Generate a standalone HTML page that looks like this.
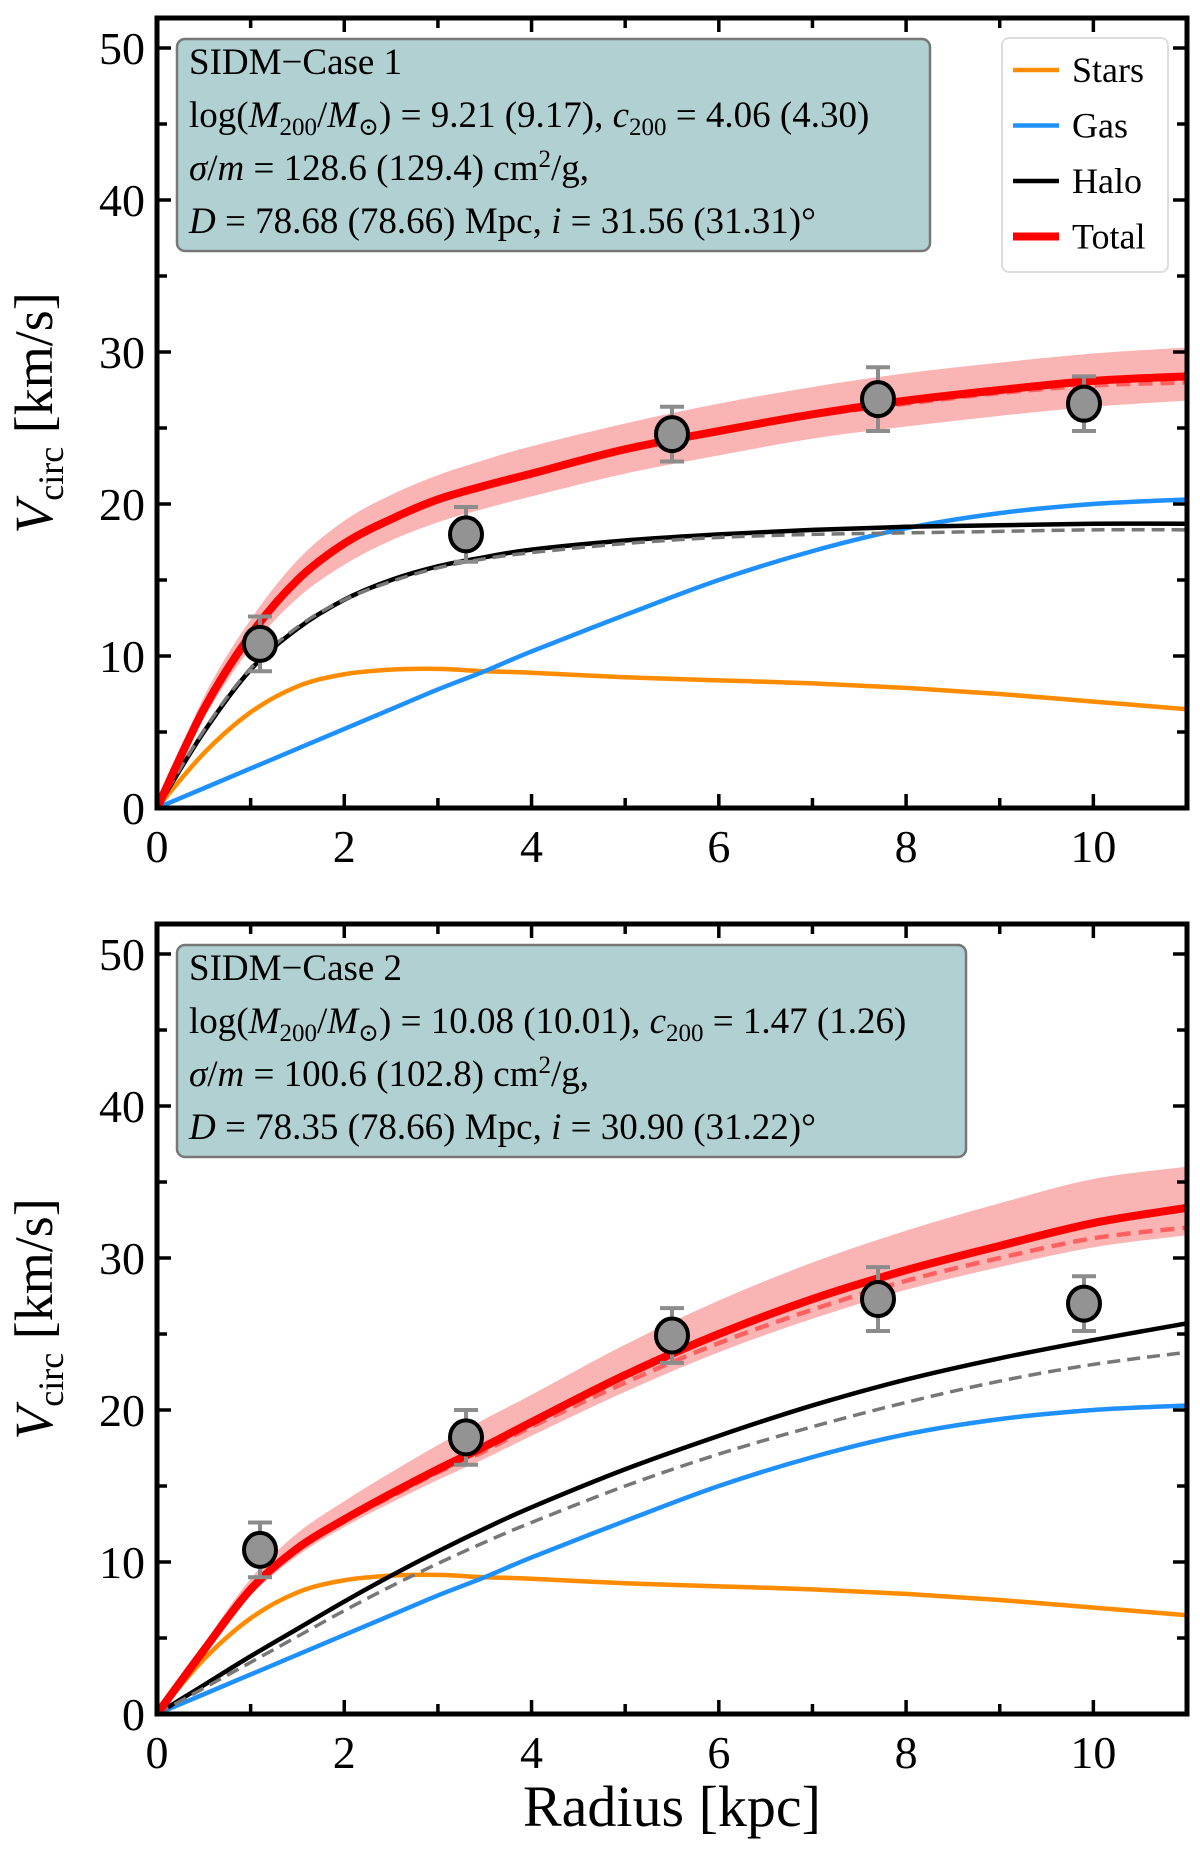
<!DOCTYPE html>
<html><head><meta charset="utf-8"><style>
html,body{margin:0;padding:0;background:#fff;}
svg{display:block;}
svg text{font-family:"Liberation Serif","Times New Roman","DejaVu Serif",serif;}
</style></head><body>
<svg id="fig" width="1200" height="1854" viewBox="0 0 1200 1854" xmlns="http://www.w3.org/2000/svg" font-family="Liberation Serif, Times New Roman, DejaVu Serif, serif"></svg>
<script>
// ---- data ----
const radii = [0,0.5,1,1.5,2,2.5,3,3.5,4,5,6,7,8,9,10,11];
const stars = [0,3.6,6.3,8.0,8.8,9.1,9.15,9.0,8.9,8.6,8.4,8.2,7.9,7.5,7.0,6.5];
const gas = [0,1.3,2.6,3.9,5.2,6.5,7.8,9.0,10.3,12.7,15.0,16.9,18.4,19.4,20.0,20.3];
const halo1 = [0,5.0,9.1,11.8,13.7,15.0,15.9,16.5,17.0,17.6,18.0,18.3,18.5,18.6,18.7,18.7];
const haloDash1 = [0,5.1,9.2,11.9,13.7,14.9,15.8,16.4,16.8,17.4,17.8,18.0,18.1,18.2,18.3,18.3];
const total1 = [0,6.5,11.4,15.0,17.4,19.0,20.3,21.2,22.0,23.6,24.8,25.9,26.8,27.5,28.1,28.4];
const totalDash1 = [0,6.6,11.5,15.0,17.3,18.9,20.2,21.1,21.9,23.5,24.7,25.8,26.6,27.3,27.8,28.0];
const bandLo1 = [0,5.9,10.5,13.8,16.0,17.6,18.8,19.7,20.5,22.0,23.2,24.3,25.1,25.8,26.4,26.8];
const bandHi1 = [0,7.3,12.4,16.3,18.9,20.6,21.9,22.9,23.8,25.3,26.6,27.7,28.6,29.3,29.9,30.3];
const halo2 = [0,1.9,3.8,5.6,7.4,9.1,10.7,12.2,13.6,16.1,18.3,20.3,22.0,23.4,24.6,25.7];
const haloDash2 = [0,1.7,3.4,5.1,6.8,8.4,9.9,11.3,12.6,15.0,17.1,18.9,20.5,21.9,23.0,23.8];
const total2 = [0,4.2,8.2,10.9,12.8,14.5,16.1,17.6,19.2,22.3,25.0,27.3,29.2,30.8,32.3,33.3];
const totalDash2 = [0,4.2,8.1,10.8,12.7,14.3,15.9,17.3,18.9,21.8,24.4,26.6,28.5,30.0,31.3,32.0];
const bandLo2 = [0,3.9,7.8,10.4,12.3,13.9,15.4,16.8,18.3,21.2,23.8,26.0,27.9,29.4,30.7,31.5];
const bandHi2 = [0,4.6,8.9,11.9,14.0,15.9,17.7,19.4,21.0,24.3,27.2,29.7,31.8,33.6,35.2,36.0];
const obsR = [1.1,3.3,5.5,7.7,9.9];
const obsV1 = [10.8,18.0,24.6,26.9,26.6];
const obsE1 = [1.8,1.8,1.8,2.1,1.8];
const obsV2 = [10.8,18.2,24.9,27.3,27.0];
const obsE2 = [1.8,1.8,1.8,2.1,1.8];
const xTicks = [0,2,4,6,8,10];
const yTicks = [0,10,20,30,40,50];

const NS = "http://www.w3.org/2000/svg";
const svg = document.getElementById('fig');
function mk(tag, attrs, parent){const e=document.createElementNS(NS,tag);for(const k in attrs)e.setAttribute(k,attrs[k]);(parent||svg).appendChild(e);return e;}

const X0=157, X1=1187;
const xs = v => X0 + v*(X1-X0)/11;

function pathD(xsArr, ysArr, fx, fy){
  const p = xsArr.map((x,i)=>[fx(x),fy(ysArr[i])]);
  let d = `M${p[0][0]},${p[0][1]}`;
  for(let i=0;i<p.length-1;i++){
    const p0=p[Math.max(0,i-1)],p1=p[i],p2=p[i+1],p3=p[Math.min(p.length-1,i+2)];
    const c1=[p1[0]+(p2[0]-p0[0])/6,p1[1]+(p2[1]-p0[1])/6];
    const c2=[p2[0]-(p3[0]-p1[0])/6,p2[1]-(p3[1]-p1[1])/6];
    d+=` C${c1[0]},${c1[1]} ${c2[0]},${c2[1]} ${p2[0]},${p2[1]}`;
  }
  return d;
}

function panel(id, y0, d){
  const yUnit = 15.2;
  const ys = v => y0 - v*yUnit;
  const g = mk('g',{});
  
  
  const clipId = id+'-clip';
  const cp = mk('clipPath',{id:clipId},g);
  mk('rect',{x:X0,y:y0-790,width:X1-X0,height:790},cp);
  const plot = mk('g',{'clip-path':`url(#${clipId})`},g);
  const up = pathD(radii,d.hi,xs,ys);
  const lo = pathD(radii.slice().reverse(),d.lo.slice().reverse(),xs,ys).replace(/^M/,'L');
  const band = mk('path',{d:up+' '+lo+' Z',fill:'#fbb4b4',stroke:'none'},plot);
  
  
  const lines = [
    ['stars-curve',stars,'#ff8c00',4.5,null],
    ['gas-curve',gas,'#1e90ff',4.5,null],
    ['halo-curve',d.halo,'#000',4.5,null],
    ['halo-dashed-curve',d.haloDash,'#777',3.5,'13,7'],
    ['total-dashed-curve',d.totalDash,'#ff6060',4.5,'14,8'],
    ['total-curve',d.total,'#ff0000',8,null]
  ];
  for(const [nm,arr,col,w,dash] of lines){
    const a={d:pathD(radii,arr,xs,ys),fill:'none',stroke:col,'stroke-width':w};
    if(dash)a['stroke-dasharray']=dash;
    const p=mk('path',a,plot);
    
    
  }
  obsR.forEach((r,i)=>{
    const cx=xs(r), v=d.obs[i], e=d.err[i];
    const eg=mk('g',{stroke:'#8c8c8c','stroke-width':4},plot);
    
    
    mk('line',{x1:cx,x2:cx,y1:ys(v-e),y2:ys(v+e)},eg);
    mk('line',{x1:cx-12,x2:cx+12,y1:ys(v-e),y2:ys(v-e)},eg);
    mk('line',{x1:cx-12,x2:cx+12,y1:ys(v+e),y2:ys(v+e)},eg);
    const c=mk('ellipse',{cx:cx,cy:ys(v),rx:16,ry:17,fill:'#939393',stroke:'#000','stroke-width':4},plot);
    
    
  });
  const top = y0-790;
  const fr=mk('rect',{x:X0,y:top,width:X1-X0,height:790,fill:'none',stroke:'#000','stroke-width':5},g);
  
  
  for(let v=0;v<=11;v++){
    const L = v%2===0?14:10;
    mk('line',{x1:xs(v),x2:xs(v),y1:y0,y2:y0-L,stroke:'#000','stroke-width':3.5},g);
    mk('line',{x1:xs(v),x2:xs(v),y1:top,y2:top+L,stroke:'#000','stroke-width':3.5},g);
  }
  for(let v=0;v<=50;v+=5){
    const L = v%10===0?14:10;
    mk('line',{x1:X0,x2:X0+L,y1:ys(v),y2:ys(v),stroke:'#000','stroke-width':3.5},g);
    mk('line',{x1:X1,x2:X1-L,y1:ys(v),y2:ys(v),stroke:'#000','stroke-width':3.5},g);
  }
  xTicks.forEach(v=>{
    const t=mk('text',{x:xs(v),y:y0+54,'text-anchor':'middle','font-size':46},g);
    t.textContent=v;
    
    
  });
  yTicks.forEach(v=>{
    const t=mk('text',{x:X0-12,y:ys(v)+16,'text-anchor':'end','font-size':46},g);
    t.textContent=v;
    
    
  });
  const yl=mk('text',{transform:`translate(52,${y0-395}) rotate(-90)`,'text-anchor':'middle','font-size':54},g);
  yl.innerHTML='<tspan font-style="italic">V</tspan><tspan font-size="36" dy="11">circ</tspan><tspan dy="-11"> [km/s]</tspan>';
  
  
  const bx=177, by=y0-769, bw=d.boxW, bh=212;
  const ib=mk('g',{},g);
  
  
  mk('rect',{x:bx,y:by,width:bw,height:bh,rx:8,fill:'#b0d0d2',stroke:'#777','stroke-width':2.5},ib);
  d.lines.forEach((ln,i)=>{
    const t=mk('text',{x:bx+12,y:by+35+i*53,'font-size':37},ib);
    t.innerHTML=ln;
  });
  return g;
}

panel('panel-case1', 808, {
  halo:halo1, haloDash:haloDash1, total:total1, totalDash:totalDash1, lo:bandLo1, hi:bandHi1,
  obs:obsV1, err:obsE1, boxW:753,
  lines:['SIDM−Case 1',
   'log(<tspan font-style="italic">M</tspan><tspan font-size="25" dy="8">200</tspan><tspan dy="-8">/</tspan><tspan font-style="italic">M</tspan><tspan font-size="25" dy="8">⊙</tspan><tspan dy="-8">) = 9.21 (9.17), </tspan><tspan font-style="italic">c</tspan><tspan font-size="25" dy="8">200</tspan><tspan dy="-8"> = 4.06 (4.30)</tspan>',
   '<tspan font-style="italic">σ</tspan>/<tspan font-style="italic">m</tspan> = 128.6 (129.4) cm<tspan font-size="25" dy="-13">2</tspan><tspan dy="13">/g,</tspan>',
   '<tspan font-style="italic">D</tspan> = 78.68 (78.66) Mpc, <tspan font-style="italic">i</tspan> = 31.56 (31.31)°']
});
panel('panel-case2', 1714, {
  halo:halo2, haloDash:haloDash2, total:total2, totalDash:totalDash2, lo:bandLo2, hi:bandHi2,
  obs:obsV2, err:obsE2, boxW:789,
  lines:['SIDM−Case 2',
   'log(<tspan font-style="italic">M</tspan><tspan font-size="25" dy="8">200</tspan><tspan dy="-8">/</tspan><tspan font-style="italic">M</tspan><tspan font-size="25" dy="8">⊙</tspan><tspan dy="-8">) = 10.08 (10.01), </tspan><tspan font-style="italic">c</tspan><tspan font-size="25" dy="8">200</tspan><tspan dy="-8"> = 1.47 (1.26)</tspan>',
   '<tspan font-style="italic">σ</tspan>/<tspan font-style="italic">m</tspan> = 100.6 (102.8) cm<tspan font-size="25" dy="-13">2</tspan><tspan dy="13">/g,</tspan>',
   '<tspan font-style="italic">D</tspan> = 78.35 (78.66) Mpc, <tspan font-style="italic">i</tspan> = 30.90 (31.22)°']
});

const lg = mk('g',{});


mk('rect',{x:1002,y:38,width:166,height:234,rx:7,fill:'#fff',stroke:'#ddd','stroke-width':2},lg);
const legItems=[['Stars','#ff8c00',4.5],['Gas','#1e90ff',4.5],['Halo','#000',4.5],['Total','#ff0000',8]];
legItems.forEach(([lab,col,w],i)=>{
  const y=70+i*55.5;
  const e=mk('g',{},lg);
  
  
  mk('line',{x1:1013,x2:1059,y1:y,y2:y,stroke:col,'stroke-width':w},e);
  const t=mk('text',{x:1072,y:y+12,'font-size':36},e);
  t.textContent=lab;
});

const xl=mk('text',{x:672,y:1826,'text-anchor':'middle','font-size':58});
xl.textContent='Radius [kpc]';


</script>
</body></html>
